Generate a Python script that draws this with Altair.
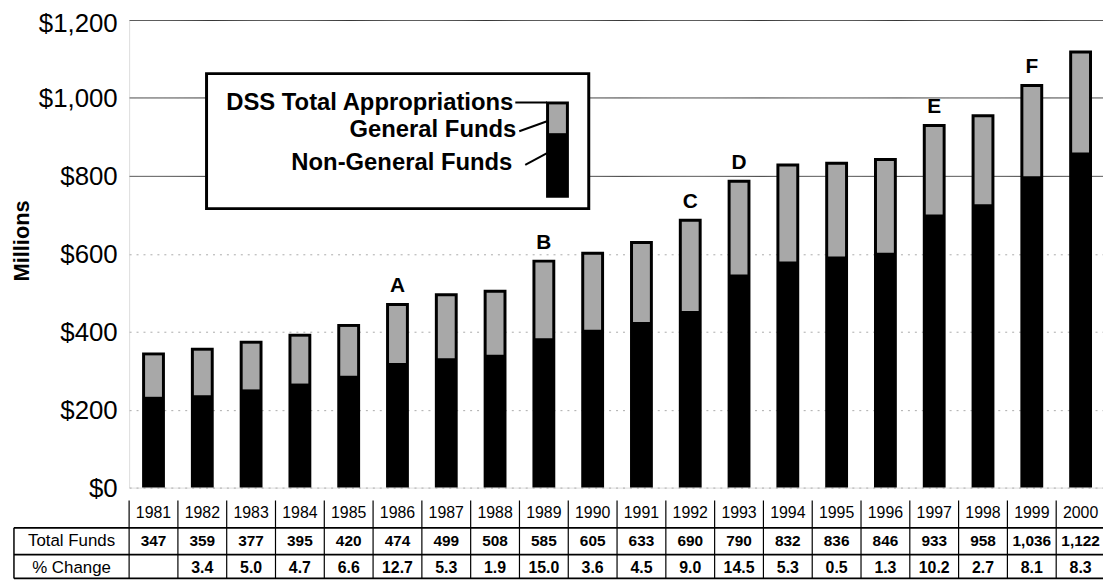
import altair as alt
import pandas as pd

years = [str(y) for y in range(1981, 2001)]
total_funds = [347, 359, 377, 395, 420, 474, 499, 508, 585, 605,
               633, 690, 790, 832, 836, 846, 933, 958, 1036, 1122]
non_general = [233, 237, 252, 267, 287, 320, 332, 341, 383, 405,
               425, 453, 547, 580, 593, 603, 701, 727, 799, 860]
pct_change = [None, 3.4, 5.0, 4.7, 6.6, 12.7, 5.3, 1.9, 15.0, 3.6,
              4.5, 9.0, 14.5, 5.3, 0.5, 1.3, 10.2, 2.7, 8.1, 8.3]
marker_years = ["1986", "1989", "1992", "1993", "1997", "1999"]
marker_letters = ["A", "B", "C", "D", "E", "F"]
y_ticks = [0, 200, 400, 600, 800, 1000, 1200]

FONT = "Liberation Sans"
GREY = "#a8a8a8"

df = pd.DataFrame({"year": years, "total": total_funds, "ng": non_general})
df_pct = pd.DataFrame({"year": years[1:], "pct": pct_change[1:]})
df_mark = pd.DataFrame({"year": marker_years, "letter": marker_letters})
df_mark = df_mark.merge(df[["year", "total"]], on="year")
one = pd.DataFrame({"k": [0]})

xscale = alt.Scale(domain=years, range=[0, 983], paddingInner=0, paddingOuter=0)
X = alt.X("year:N", scale=xscale, axis=None)
Xedge = alt.X("year:N", scale=xscale, axis=None, bandPosition=0)

yaxis = alt.Axis(
    values=y_ticks, format="$,d", title="Millions", grid=True,
    gridColor={"condition": {"test": "datum.value >= 800", "value": "#333"}, "value": "#aaa"},
    gridDash={"condition": {"test": "datum.value >= 800", "value": [1, 0]}, "value": [2, 5]},
    gridWidth=1, ticks=False, domain=False,
    labelFont=FONT, labelFontSize=26, labelColor="black", labelPadding=12,
    labelOffset={"condition": {"test": "datum.value >= 1200", "value": 4}, "value": 1},
    titleFont=FONT, titleFontSize=22, titleFontWeight="bold", titleColor="black",
    titleAngle=270, titleX=-108, titleY=222, titleAlign="center", titleBaseline="middle",
)
Y = alt.Y("total:Q", scale=alt.Scale(domain=[0, 1200], nice=False), axis=yaxis)

base = alt.Chart(df)
black_bars = base.mark_bar(size=23, color="black").encode(x=X, y=Y)
grey_bars = base.mark_bar(size=17, color=GREY, yOffset=3).encode(
    x=X, y=alt.Y("total:Q"), y2=alt.Y2("ng:Q"))

letters = alt.Chart(df_mark).mark_text(
    font=FONT, fontSize=21, fontWeight="bold", baseline="bottom", dy=-7, color="black"
).encode(x=X, y=alt.Y("total:Q"), text="letter:N")

# Table below the chart
year_text = base.mark_text(font=FONT, fontSize=16, color="black", baseline="middle").encode(
    x=X, y=alt.value(497), text="year:N")
total_text = base.mark_text(font=FONT, fontSize=15.5, fontWeight="bold", color="black",
                            baseline="middle").encode(
    x=X, y=alt.value(525), text=alt.Text("total:Q", format=",d"))
pct_text = alt.Chart(df_pct).mark_text(font=FONT, fontSize=16, fontWeight="bold",
                                        color="black", baseline="middle").encode(
    x=X, y=alt.value(552.5), text=alt.Text("pct:Q", format=".1f"))
row_labels = alt.Chart(pd.DataFrame({"label": ["Total Funds", "% Change"], "yy": [525, 552.5]})).mark_text(
    font=FONT, fontSize=17, color="black", baseline="middle").encode(
    x=alt.value(-58), y=alt.Y("yy:Q", scale=None), text="label:N")

year_sep = base.mark_rule(color="black", strokeWidth=1.2).encode(
    x=Xedge, y=alt.value(484), y2=alt.value(511.5))
row_sep = base.mark_rule(color="black", strokeWidth=1.2).encode(
    x=Xedge, y=alt.value(511.5), y2=alt.value(562.5))
left_border = alt.Chart(one).mark_rule(color="black", strokeWidth=1.5).encode(
    x=alt.value(-116), y=alt.value(511.5), y2=alt.value(562.5))
hlines = alt.Chart(pd.DataFrame({"yy": [511.5, 538.5, 562.5]})).mark_rule(
    color="black", strokeWidth=1.8).encode(
    x=alt.value(-116), x2=alt.value(990), y=alt.Y("yy:Q", scale=None))

# Legend box drawn as annotation
leg_box = alt.Chart(one).mark_rect(fill="white", stroke="black", strokeWidth=3).encode(
    x=alt.value(78), x2=alt.value(463), y=alt.value(54), y2=alt.value(190))
leg_texts = alt.Chart(pd.DataFrame({
    "label": ["DSS Total Appropriations", "General Funds", "Non-General Funds"],
    "xx": [387, 390, 386], "yy": [84, 110.5, 144]})).mark_text(
    font=FONT, fontSize=24, fontWeight="bold", align="right", baseline="middle", color="black"
).encode(x=alt.X("xx:Q", scale=None), y=alt.Y("yy:Q", scale=None), text="label:N")
leg_black = alt.Chart(one).mark_rect(color="black").encode(
    x=alt.value(420), x2=alt.value(443), y=alt.value(82), y2=alt.value(179))
leg_grey = alt.Chart(one).mark_rect(color=GREY).encode(
    x=alt.value(423), x2=alt.value(440), y=alt.value(85), y2=alt.value(114))
leg_lines = alt.Chart(pd.DataFrame({
    "x1": [389, 393, 399], "x2": [421, 421, 421],
    "y1": [83, 112, 146], "y2": [83, 102, 134]})).mark_rule(color="black", strokeWidth=2).encode(
    x=alt.X("x1:Q", scale=None), x2="x2:Q", y=alt.Y("y1:Q", scale=None), y2="y2:Q")

chart = alt.layer(
    black_bars, grey_bars, letters,
    leg_box, leg_black, leg_grey, leg_lines, leg_texts,
    year_text, total_text, pct_text, row_labels,
    year_sep, row_sep, left_border, hlines,
).properties(
    width=981, height=471,
    padding={"left": 122, "top": 10, "right": 0, "bottom": 93},
    autosize=alt.AutoSizeParams(type="none"),
).configure_view(stroke="black", strokeWidth=2.5).configure(background="white")

chart.save("out.html", embed_options={"renderer": "svg", "actions": False})
